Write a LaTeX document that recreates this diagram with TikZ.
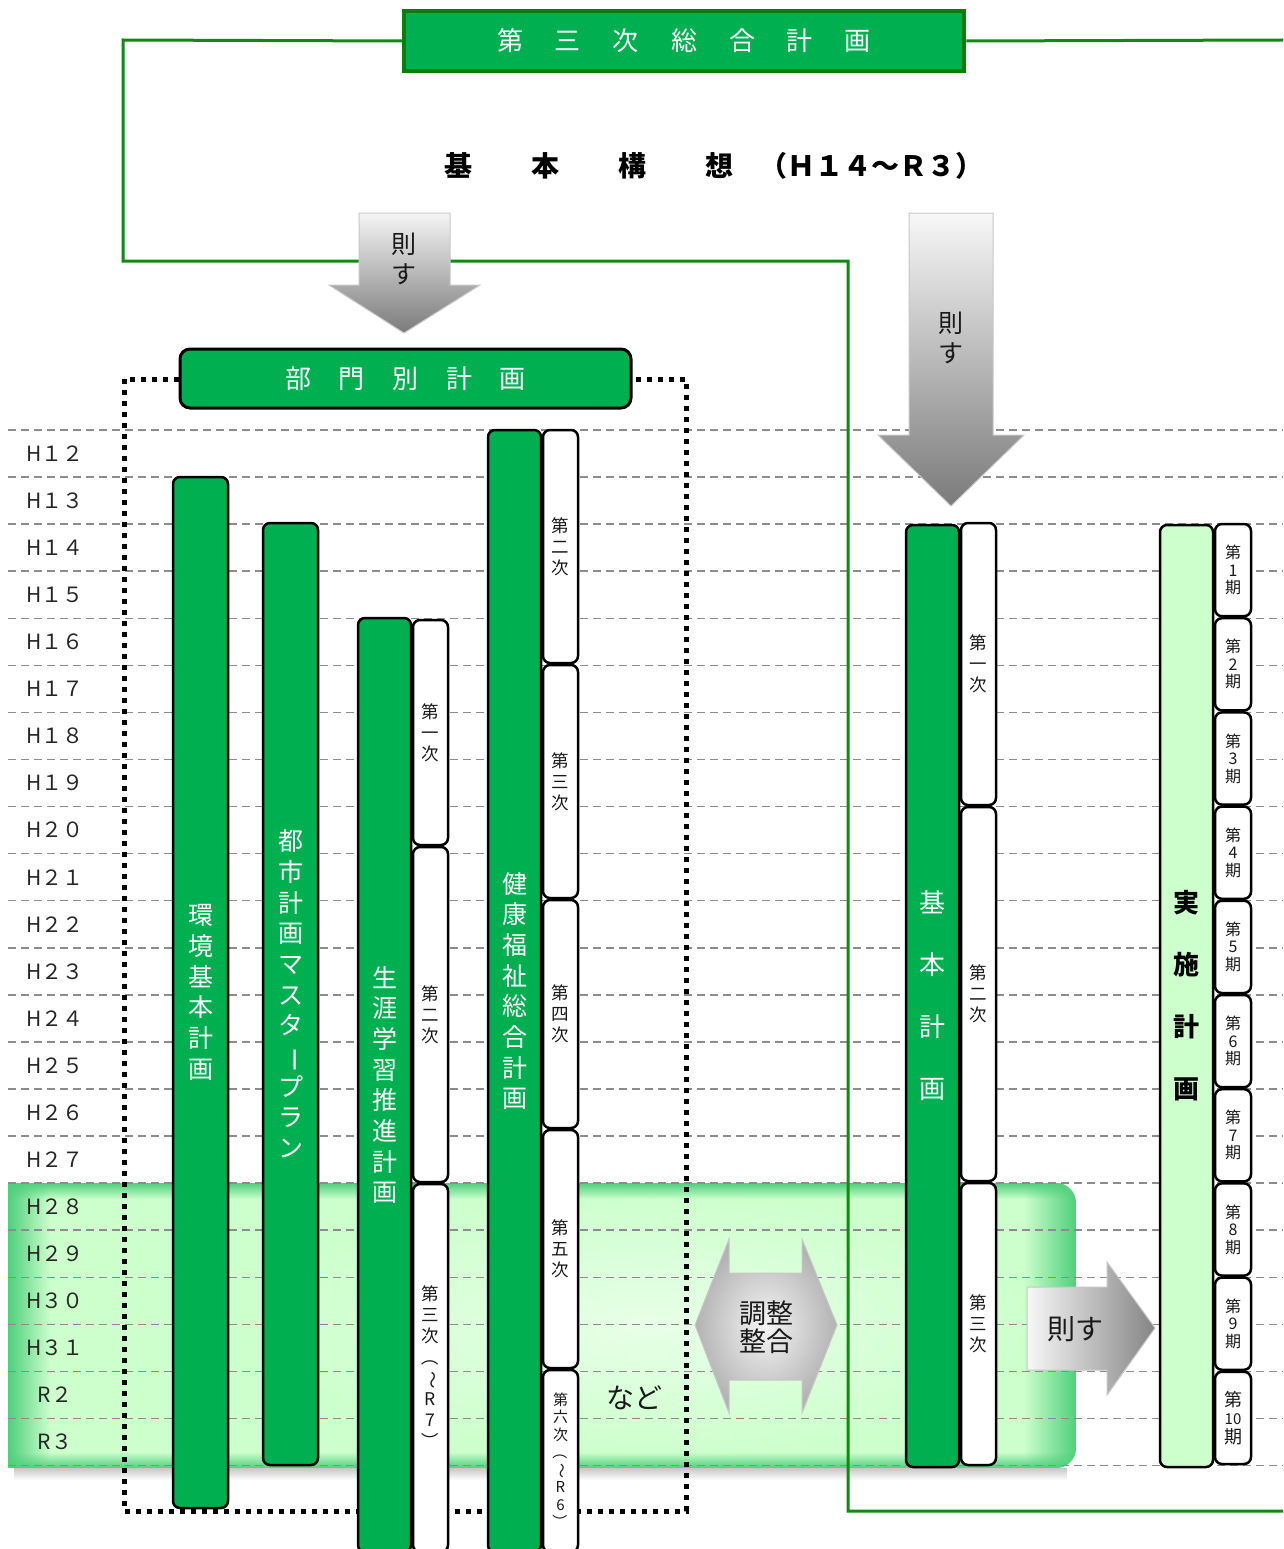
\documentclass[tikz,border=0pt]{standalone}
\usepackage{fontspec}
\setmainfont{Noto Sans CJK JP}
\usetikzlibrary{fadings}
\definecolor{kgreen}{HTML}{00B050}
\definecolor{lgreen}{HTML}{CCFFCC}
\definecolor{frameg}{HTML}{108A10}
\definecolor{boxedge}{HTML}{0A7D0A}
\definecolor{edgeg}{HTML}{4FD07C}
\tikzfading[name=fadeleft, left color=transparent!0, right color=transparent!100]
\tikzfading[name=faderight, left color=transparent!100, right color=transparent!0]
\tikzfading[name=fadetop, top color=transparent!0, bottom color=transparent!100]
\tikzfading[name=fadebottom, top color=transparent!100, bottom color=transparent!0]
\tikzfading[name=glowfade, inner color=transparent!0, outer color=transparent!100]
\newcommand{\vrot}[1]{\rotatebox[origin=c]{-90}{#1}}
\begin{document}
\begin{tikzpicture}[x=1pt,y=-1pt,
  grid/.style={draw=black!45, line width=1.5pt, dash pattern=on 8pt off 5pt},
  frameline/.style={draw=frameg, line width=3pt},
  dotrect/.style={draw=black, line width=5pt, dash pattern=on 5pt off 6pt},
  yearlab/.style={font=\fontsize{21}{21}\selectfont, text=black!85},
  barbase/.style={draw=black, line width=2.5pt, rounded corners=7pt, inner sep=0pt, align=center},
  gbar/.style={barbase, fill=kgreen, text=white, minimum width=54pt, font=\fontsize{25}{30.7}\selectfont},
  wbox/.style={barbase, fill=white, text=black!90, minimum width=35pt, font=\fontsize{17.5}{21}\selectfont},
  pbox/.style={barbase, fill=white, text=black!90, minimum width=36pt, font=\fontsize{16}{17.5}\selectfont},
  blockarrow/.style={draw=black!22, line width=1pt},
  arrowtext/.style={font=\fontsize{25}{30}\selectfont, align=center, text=black!90}
]
\useasboundingbox (0,0) rectangle (1283,1549);
\fill[white] (0,0) rectangle (1283,1549);

% highlighted band H28--R3
\fill[black, opacity=0.22, path fading=fadetop] (14,1468) rectangle (1068,1480);
\begin{scope}
  \clip (8,1183) -- (1056,1183) arc[start angle=-90, end angle=0, radius=20]
        -- (1076,1448) arc[start angle=0, end angle=90, radius=20] -- (8,1468) -- cycle;
  \fill[lgreen] (8,1183) rectangle (1076,1468);
  \fill[white, opacity=0.55, path fading=glowfade] (250,1190) rectangle (1050,1460);
  \fill[edgeg, path fading=fadeleft] (8,1183) rectangle (50,1468);
  \fill[edgeg, path fading=faderight] (1024,1183) rectangle (1076,1468);
  \fill[edgeg, path fading=fadetop] (8,1183) rectangle (1076,1199);
  \fill[edgeg, path fading=fadebottom] (8,1452) rectangle (1076,1468);
\end{scope}

% grid lines
\foreach \i in {0,...,22} \draw[grid] (8,{430+47.07*\i}) -- (1283,{430+47.07*\i});

% year labels
\foreach \i/\lab in {0/H１２,1/H１３,2/H１４,3/H１５,4/H１６,5/H１７,6/H１８,7/H１９,8/H２０,9/H２１,10/H２２,11/H２３,12/H２４,13/H２５,14/H２６,15/H２７,16/H２８,17/H２９,18/H３０,19/H３１,20/R２,21/R３}
  \node[yearlab] (y\i) at (55,{430+47.07*(\i+0.5)}) {\lab};

% top plan box and frame line
\node[draw=boxedge, line width=4.5pt, fill=kgreen, minimum width=560pt, minimum height=60pt,
      text=white, font=\fontsize{26}{26}\selectfont] (sogo) at (684,41)
  {第\hspace{32pt}三\hspace{32pt}次\hspace{32pt}総\hspace{32pt}合\hspace{32pt}計\hspace{32pt}画};
\coordinate (fl1) at (123,40);
\coordinate (fl2) at (123,261);
\coordinate (fl3) at (848,261);
\coordinate (fl4) at (848,1511);
\coordinate (fl5) at (1283,1511);
\coordinate (fr) at (1283,40);
\draw[frameline] (sogo.west) -- (fl1) -- (fl2) -- (fl3) -- (fl4) -- (fl5);
\draw[frameline] (sogo.east) -- (fr);

\node[anchor=west, font=\fontsize{28}{28}\selectfont\bfseries] (kousou) at (441,166)
  {基\hspace{59pt}本\hspace{59pt}構\hspace{59pt}想\hspace{26pt}（Ｈ１４～Ｒ３）};

% dotted frame of sectoral plans
\draw[dotrect] (124,379) rectangle (686,1511);

% block arrows
\shade[blockarrow, top color=white!96!black, bottom color=black!52]
  (359,213) -- (450,213) -- (450,285) -- (480,285) -- (404,333) -- (329,285) -- (359,285) -- cycle;
\node[arrowtext] (ar1) at (404,259) {則\\す};
\shade[blockarrow, top color=white!97!black, bottom color=black!52]
  (909,213) -- (993,213) -- (993,435) -- (1024,435) -- (951,506) -- (878,435) -- (909,435) -- cycle;
\node[arrowtext] (ar2) at (951,338) {則\\す};
\shade[blockarrow, inner color=white!96!black, outer color=black!30]
  (695,1325) -- (729,1239) -- (729,1273) -- (802,1273) -- (802,1239) -- (837,1325)
  -- (802,1413) -- (802,1380) -- (729,1380) -- (729,1413) -- cycle;
\node[font=\fontsize{27}{28}\selectfont, align=center, text=black!90] (chosei) at (766,1327) {調整\\整合};
\shade[blockarrow, left color=white!97!black, right color=black!48]
  (1027,1287) -- (1107,1287) -- (1107,1262) -- (1155,1328) -- (1107,1395) -- (1107,1370) -- (1027,1370) -- cycle;
\node[font=\fontsize{28}{28}\selectfont, text=black!90] (ar3) at (1075,1329) {則す};

% sectoral plans header
\node[draw=black, line width=3pt, rounded corners=10pt, fill=kgreen, minimum width=451pt, minimum height=59pt,
      text=white, font=\fontsize{26}{26}\selectfont] (bumon) at (405.5,378.5)
  {部\hspace{27.5pt}門\hspace{27.5pt}別\hspace{27.5pt}計\hspace{27.5pt}画};

% green bars
\node[gbar, minimum width=55pt, minimum height=1031pt] (kankyo) at (200.5,992.5) {環\\境\\基\\本\\計\\画};
\node[gbar, minimum width=55pt, minimum height=942pt] (toshi) at (290.5,994) {都\\市\\計\\画\\マ\\ス\\タ\\\vrot{ー}\\プ\\ラ\\ン};
\node[gbar, minimum width=53pt, minimum height=934pt] (shogai) at (384.5,1085) {生\\涯\\学\\習\\推\\進\\計\\画};
\node[gbar, minimum width=53pt, minimum height=1122pt] (kenko) at (514.5,991) {健\\康\\福\\祉\\総\\合\\計\\画};
\node[gbar, minimum width=53pt, minimum height=942pt, font=\fontsize{26}{62}\selectfont] (kihon) at (932.5,996) {基\\本\\計\\画};
\node[gbar, minimum width=53pt, minimum height=942pt, fill=lgreen, text=black, font=\fontsize{26}{62}\selectfont\bfseries] (jisshi) at (1186.5,996) {実\\施\\計\\画};

% white term boxes: lifelong learning
\node[wbox, minimum height=225pt] (sg1) at (430.5,732.5) {第\\一\\次};
\node[wbox, minimum height=335pt] (sg2) at (430.5,1014.5) {第\\二\\次};
\node[wbox, minimum height=368pt] (sg3) at (430.5,1368) {第\\三\\次\\\vrot{（}\\\vrot{～}\\R\\7\\\vrot{）}};

% white term boxes: health & welfare
\node[wbox, minimum height=233pt] (kk2) at (560.5,546.5) {第\\二\\次};
\node[wbox, minimum height=233pt] (kk3) at (560.5,781.5) {第\\三\\次};
\node[wbox, minimum height=228pt] (kk4) at (560.5,1014) {第\\四\\次};
\node[wbox, minimum height=238pt] (kk5) at (560.5,1249) {第\\五\\次};
\node[wbox, minimum height=182pt, font=\fontsize{15}{17.5}\selectfont] (kk6) at (560.5,1461) {第\\六\\次\\\vrot{（}\\\vrot{～}\\R\\6\\\vrot{）}};

\node[font=\fontsize{28}{28}\selectfont, text=black!90] (nado) at (634,1398) {など};

% white term boxes: basic plan
\node[wbox, minimum height=282pt] (kh1) at (978.5,664) {第\\一\\次};
\node[wbox, minimum height=374pt] (kh2) at (978.5,994) {第\\二\\次};
\node[wbox, minimum height=282pt] (kh3) at (978.5,1324) {第\\三\\次};

% implementation periods
\foreach \k/\lab in {0/1,1/2,2/3,3/4,4/5,5/6,6/7,7/8,8/9}
  \node[pbox, minimum height=92.2pt] (p\k) at (1233,{523+94.2*\k+47.1}) {第\\\lab\\期};
\node[pbox, minimum height=92.2pt, font=\fontsize{18}{18.5}\selectfont] (p9) at (1233,{523+94.2*9+47.1})
  {第\\{\fontsize{15}{15}\selectfont 10}\\期};

\end{tikzpicture}
\end{document}
